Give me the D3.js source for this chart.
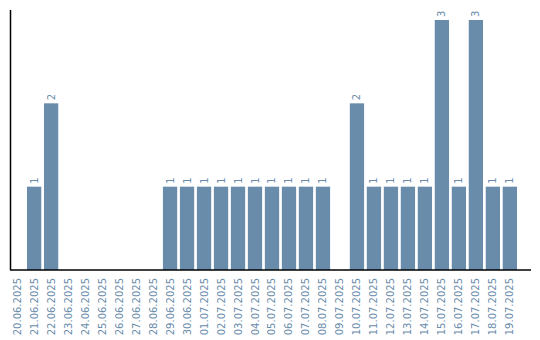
<!DOCTYPE html>
<html>
<head>
<meta charset="utf-8">
<script src="https://cdn.jsdelivr.net/npm/d3@7"></script>
<style>
  body { margin: 0; background: #fff; }
  svg { display: block; font-family: "DejaVu Sans", sans-serif; }
</style>
</head>
<body>
<div id="chart"></div>
<script>
// data
const dates = ["20.06.2025", "21.06.2025", "22.06.2025", "23.06.2025", "24.06.2025",
  "25.06.2025", "26.06.2025", "27.06.2025", "28.06.2025", "29.06.2025",
  "30.06.2025", "01.07.2025", "02.07.2025", "03.07.2025", "04.07.2025",
  "05.07.2025", "06.07.2025", "07.07.2025", "08.07.2025", "09.07.2025",
  "10.07.2025", "11.07.2025", "12.07.2025", "13.07.2025", "14.07.2025",
  "15.07.2025", "16.07.2025", "17.07.2025", "18.07.2025", "19.07.2025"];
const counts = [0, 1, 2, 0, 0, 0, 0, 0, 0, 1,
  1, 1, 1, 1, 1, 1, 1, 1, 1, 0,
  2, 1, 1, 1, 1, 3, 1, 3, 1, 1];

const width = 540, height = 340;
const margin = { top: 10, left: 10, right: 10, bottom: 70 };
const barColor = "#6a8cab";

const svg = d3.select("#chart").append("svg")
  .attr("width", width)
  .attr("height", height);

//scales
const x = d3.scaleBand()
  .domain(dates)
  .range([margin.left, 517])
  .paddingInner(0.16)
  .paddingOuter(0);

const y = d3.scaleLinear()
  .domain([0, d3.max(counts) * 1.04])
  .range([height - margin.bottom, margin.top]);

const rows = dates.map((d, i) => ({ date: d, value: counts[i] }));

//bars
svg.append("g").selectAll("rect")
  .data(rows)
  .join("rect")
  .attr("x", d => x(d.date))
  .attr("y", d => y(d.value))
  .attr("width", x.bandwidth())
  .attr("height", d => y(0) - y(d.value))
  .attr("fill", barColor);

//value labels (only for non-zero)
svg.append("g").selectAll("text")
  .data(rows.filter(d => d.value > 0))
  .join("text")
  .attr("transform", d => `translate(${x(d.date) + x.bandwidth() / 2},${y(d.value) - 3}) rotate(-90)`)
  .attr("dy", "0.35em")
  .style("font-size", "10px")
  .style("fill", barColor)
  .text(d => d.value);

//x axis
const xAxis = svg.append("g")
  .attr("transform", `translate(0,${y(0)})`)
  .call(d3.axisBottom(x).tickSize(0).tickPadding(0));
xAxis.select(".domain").remove();
xAxis.selectAll("text")
  .attr("transform", "rotate(-90)")
  .attr("x", -8)
  .attr("y", 0)
  .attr("dy", "0.35em")
  .style("text-anchor", "end")
  .style("font-family", "DejaVu Sans, sans-serif")
  .style("font-size", "10px")
  .style("fill", barColor);

svg.append("line")
  .attr("x1", margin.left)
  .attr("x2", width - margin.right + 1)
  .attr("y1", y(0))
  .attr("y2", y(0))
  .attr("stroke", "#000")
  .attr("stroke-width", 1.5);

//y axis (line only)
svg.append("line")
  .attr("x1", margin.left + 0.5)
  .attr("x2", margin.left + 0.5)
  .attr("y1", margin.top)
  .attr("y2", y(0))
  .attr("stroke", "#000")
  .attr("stroke-width", 1.5);
</script>
</body>
</html>
